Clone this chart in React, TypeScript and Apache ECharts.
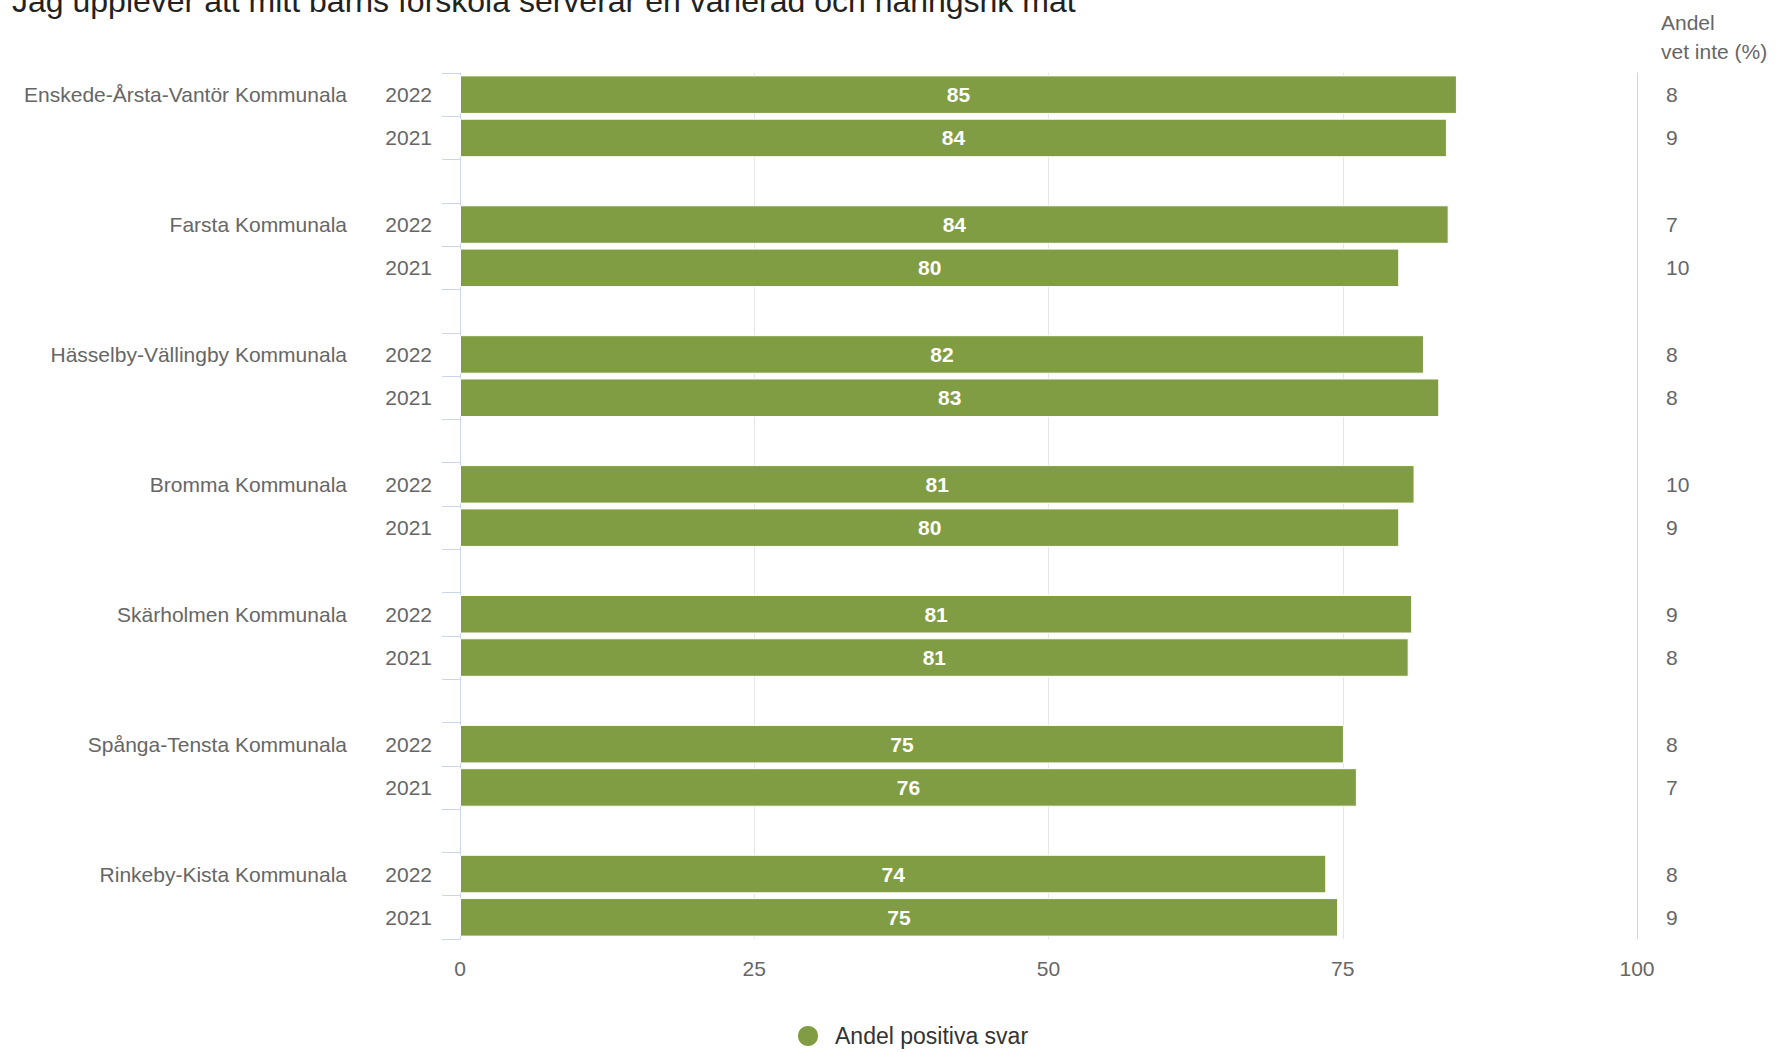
import React, { useEffect, useRef } from "react";
import * as echarts from "echarts";

const TITLE = "Jag upplever att mitt barns förskola serverar en varierad och näringsrik mat";
const SERIES_NAME = "Andel positiva svar";
const HEADER = "Andel\nvet inte (%)";

const groups = [
  "Enskede-Årsta-Vantör Kommunala",
  "Farsta Kommunala",
  "Hässelby-Vällingby Kommunala",
  "Bromma Kommunala",
  "Skärholmen Kommunala",
  "Spånga-Tensta Kommunala",
  "Rinkeby-Kista Kommunala",
];
const years = ["2022", "2021"];
const positive2022 = [84.7, 84.0, 81.9, 81.1, 80.9, 75.1, 73.6];
const positive2021 = [83.85, 79.8, 83.2, 79.8, 80.6, 76.2, 74.6];
const dontKnow2022 = [8, 7, 8, 10, 9, 8, 8];
const dontKnow2021 = [9, 10, 8, 9, 8, 7, 9];
const xTicks = [0, 25, 50, 75, 100];

type Row = { year: string; group: string; pos: number | null; dk: number | null };

const FONT = "'Liberation Sans', Arial, Helvetica, sans-serif";
const BAR = "#809d44";
const AXIS = "#ccd6eb";

function buildRows(): Row[] {
  const rows: Row[] = [];
  groups.forEach((g, i) => {
    rows.push({ year: years[0], group: g, pos: positive2022[i], dk: dontKnow2022[i] });
    rows.push({ year: years[1], group: "", pos: positive2021[i], dk: dontKnow2021[i] });
    if (i < groups.length - 1) rows.push({ year: "", group: "", pos: null, dk: null });
  });
  return rows;
}

export default function App() {
  const ref = useRef<HTMLDivElement>(null);
  useEffect(() => {
    if (!ref.current) return;
    const chart = echarts.init(ref.current, null, { renderer: "svg" });
    const rows = buildRows();
    const idx = rows.map((_, i) => String(i));
    const labelStyle = { color: "#666666", fontSize: 21, fontFamily: FONT };
    chart.setOption({
      animation: false,
      backgroundColor: "#ffffff",
      title: {
        text: TITLE,
        left: 12,
        top: -15,
        padding: 0,
        textStyle: { color: "#222222", fontSize: 32, fontWeight: "normal", fontFamily: FONT },
      },
      legend: {
        data: [SERIES_NAME],
        left: 791,
        top: 1019,
        icon: "circle",
        itemWidth: 44,
        itemHeight: 22,
        textStyle: { color: "#333333", fontSize: 23, fontFamily: FONT },
      },
      graphic: [
        {
          type: "text",
          left: 1661,
          top: 8,
          style: { text: HEADER, fill: "#666666", font: `21px ${FONT}`, lineHeight: 29 },
        },
      ],
      grid: { left: 460, right: 148, top: 73, bottom: 113, containLabel: false },
      xAxis: {
        type: "value",
        min: xTicks[0],
        max: xTicks[xTicks.length - 1],
        interval: 25,
        axisLine: { show: false },
        axisTick: { show: false },
        splitLine: { show: true, lineStyle: { color: "#e6e6e6", width: 1 } },
        axisLabel: { ...labelStyle, margin: 19 },
      },
      yAxis: [
        {
          type: "category",
          inverse: true,
          position: "left",
          data: idx,
          axisLine: { show: true, lineStyle: { color: AXIS, width: 1 } },
          axisTick: { show: true, length: 18, lineStyle: { color: AXIS } },
          axisLabel: {
            ...labelStyle,
            interval: 0,
            margin: 28,
            formatter: (_v: string, i: number) => rows[i].year,
          },
          splitLine: { show: false },
        },
        {
          type: "category",
          inverse: true,
          position: "left",
          offset: 0,
          data: idx,
          axisLine: { show: false },
          axisTick: { show: false },
          axisLabel: {
            ...labelStyle,
            interval: 0,
            margin: 113,
            formatter: (_v: string, i: number) => rows[i].group,
          },
          splitLine: { show: false },
        },
        {
          type: "category",
          inverse: true,
          position: "right",
          data: idx,
          axisLine: { show: true, lineStyle: { color: AXIS, width: 1 } },
          axisTick: { show: false },
          axisLabel: {
            ...labelStyle,
            interval: 0,
            align: "left",
            margin: 29,
            formatter: (_v: string, i: number) => (rows[i].dk == null ? "" : String(rows[i].dk)),
          },
          splitLine: { show: false },
        },
      ],
      series: [
        {
          name: SERIES_NAME,
          type: "bar",
          xAxisIndex: 0,
          yAxisIndex: 0,
          barCategoryGap: "11%",
          data: rows.map((r) => (r.pos == null ? "-" : r.pos)),
          itemStyle: { color: BAR, borderColor: "#ffffff", borderWidth: 1 },
          label: {
            show: true,
            position: "inside",
            color: "#ffffff",
            fontWeight: "bold",
            fontSize: 21,
            fontFamily: FONT,
            formatter: (p: any) => String(Math.round(p.value)),
          },
        },
      ],
    });
    return () => chart.dispose();
  }, []);
  return (
    <div
      ref={ref}
      style={{ position: "absolute", left: 0, top: 0, width: 1785, height: 1052 }}
    />
  );
}
